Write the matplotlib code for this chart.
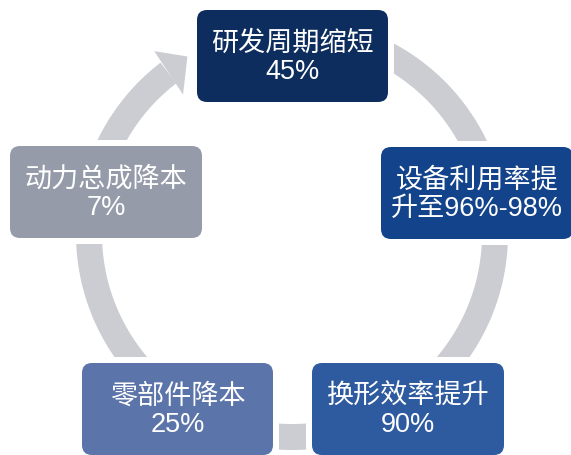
import numpy as np
import matplotlib
matplotlib.use("Agg")
import matplotlib.pyplot as plt
from matplotlib.patches import FancyBboxPatch, Polygon

# Stage labels (first line, second line) and box colours, clockwise from top
line1 = ["研发周期缩短", "设备利用率提", "换形效率提升", "零部件降本", "动力总成降本"]
line2 = ["45%", "升至96%-98%", "90%", "25%", "7%"]
colors = ["#0c2d5d", "#13438a", "#2e5a9f", "#5b74a9", "#959ba9"]
ring_color = "#cbcdd2"

W, H = 571, 456
fig = plt.figure(figsize=(W / 100, H / 100), dpi=100)
ax = fig.add_axes([0, 0, 1, 1])
ax.set_xlim(0, W)
ax.set_ylim(H, 0)
ax.axis("off")

# Ring geometry (pixel units)
cx, cy = 292, 235
r_out, r_in = 216, 190


def pt(r, phi_deg):
    """Point at radius r, angle phi measured clockwise from straight up."""
    p = np.radians(phi_deg)
    return cx + r * np.sin(p), cy - r * np.cos(p)


# Circular band: from the arrowhead base round through the bottom, ending under the top box
phi = np.linspace(-37.5, -345, 400)
outer = np.column_stack(pt(r_out, phi))
inner = np.column_stack(pt(r_in, phi[::-1]))
ax.add_patch(Polygon(np.vstack([outer, inner]), closed=True,
                     facecolor=ring_color, edgecolor="none", zorder=1))

# Arrowhead pointing clockwise into the top box
head = np.array([pt(229, -37.0), pt(206, -30.5), pt(177, -38.0)])
ax.add_patch(Polygon(head, closed=True, facecolor=ring_color,
                     edgecolor="none", zorder=1))

# Box layout: (left, top, right, bottom)
boxes = [
    (197, 11, 388, 103),
    (381, 148, 573, 240),
    (312, 364, 504, 456),
    (82, 364, 273, 456),
    (10, 147, 202, 239),
]

fam = ["Liberation Sans", "Noto Sans CJK SC"]
gap = 6
for (x0, y0, x1, y1), c, t1, t2 in zip(boxes, colors, line1, line2):
    # white margin separating the ring from the box
    ax.add_patch(FancyBboxPatch((x0 - gap, y0 - gap), (x1 - x0) + 2 * gap,
                                (y1 - y0) + 2 * gap,
                                boxstyle="round,pad=0,rounding_size=14",
                                facecolor="white", edgecolor="none", zorder=2))
    ax.add_patch(FancyBboxPatch((x0, y0), x1 - x0, y1 - y0,
                                boxstyle="round,pad=0,rounding_size=10",
                                facecolor=c, edgecolor="none", zorder=3))
    xm, ym = (x0 + x1) / 2, (y0 + y1) / 2
    ax.text(xm, ym - 13, t1, color="white", fontsize=19.5, ha="center",
            va="center", family=fam, fontweight="light", zorder=4)
    ax.text(xm, ym + 15, t2, color="white", fontsize=19.5, ha="center",
            va="center", family=fam, zorder=4)

fig.savefig("out.png", dpi=100, facecolor="white")
